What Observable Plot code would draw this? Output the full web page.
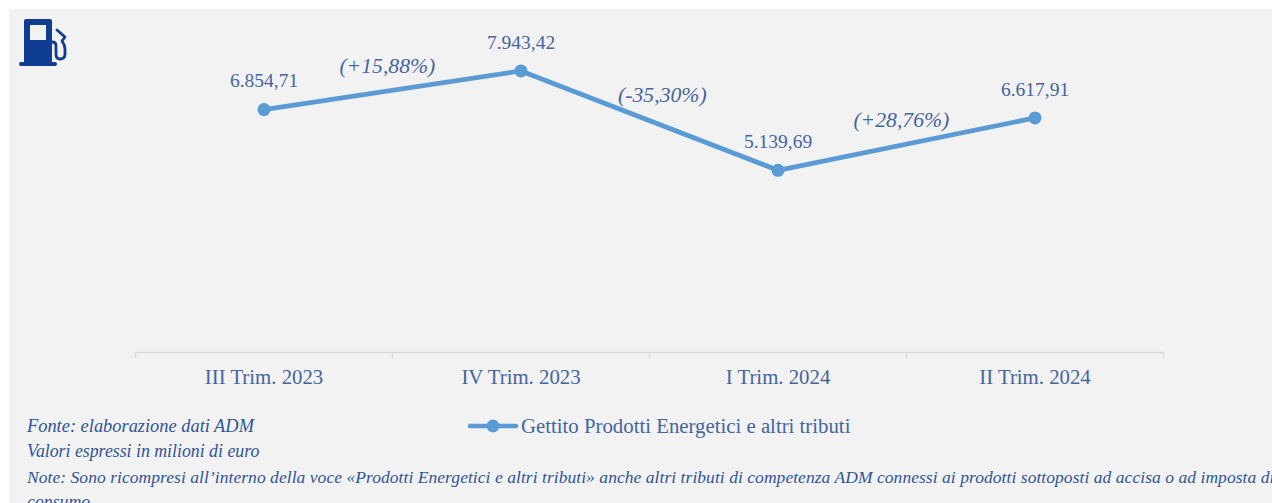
<!DOCTYPE html>
<html><head><meta charset="utf-8">
<script src="https://cdn.jsdelivr.net/npm/d3@7"></script>
<script src="https://cdn.jsdelivr.net/npm/@observablehq/plot@0.6"></script>
<style>
html,body{margin:0;padding:0;width:1272px;height:503px;overflow:hidden;background:#fff}
#panel{position:absolute;left:9px;top:9px;right:0;bottom:0;background:#f2f2f2}
#chart{position:absolute;left:0;top:0}
#icon{position:absolute;left:18px;top:18px}
.note{position:absolute;left:27px;white-space:nowrap;font:italic 17.8px/24px "Liberation Serif",serif;color:#2f5597}
#legend{position:absolute;left:468px;top:414px;height:24px;white-space:nowrap;font:20.8px/24px "Liberation Serif",serif;color:#44659f}
#legend svg{position:absolute;left:0;top:0}
#legend span{position:absolute;left:53px;top:0}
</style></head><body>
<div id="panel"></div>
<div id="chart"></div>
<svg id="icon" width="52" height="50" viewBox="0 0 52 50">
<path fill="#0f3d91" fill-rule="evenodd" d="M6 3q0-2 2-2h24q2 0 2 2v41h3q2 0 2 2t-2 2H3q-2 0-2-2t2-2h3zM12 7v15h16V7z"/>
<path fill="none" stroke="#0f3d91" stroke-width="2.8" stroke-linecap="round" stroke-linejoin="round" d="M34 24q4 0 4 4v8q0 5 4 5q5 0 5-5v-5q0-4-3-8l3-4-8-7"/>
</svg>
<div class="note" style="top:414px;font-size:18.4px">Fonte: elaborazione dati ADM</div>
<div class="note" style="top:439px">Valori espressi in milioni di euro</div>
<div class="note" style="top:465px;font-size:17.5px;letter-spacing:.05px">Note: Sono ricompresi all’interno della voce «Prodotti Energetici e altri tributi» anche altri tributi di competenza ADM connessi ai prodotti sottoposti ad accisa o ad imposta di</div>
<div class="note" style="top:490px">consumo</div>
<div id="legend"><svg width="52" height="24"><line x1="2" x2="48" y1="12" y2="12" stroke="#5b9bd5" stroke-width="4.500" stroke-linecap="round"/><circle cx="25" cy="12" r="6.500" fill="#5b9bd5"/></svg><span>Gettito Prodotti Energetici e altri tributi</span></div>
<script>
const quarters = ["III Trim. 2023","IV Trim. 2023","I Trim. 2024","II Trim. 2024"];
const values = [6854.71,7943.42,5139.69,6617.91];
const valueLabels = ["6.854,71","7.943,42","5.139,69","6.617,91"];
const changes = ["(+15,88%)","(-35,30%)","(+28,76%)"];
const changeX = [0.98,2.05,2.98];
const changeY = [8070,7270,6570];
const slots = [0.5,1.5,2.5,3.5];
const bounds = [0,1,2,3,4];

const rows = quarters.map((q,i)=>({q,x:slots[i],v:values[i],label:valueLabels[i]}));
const changeRows = changes.map((t,i)=>({t,x:changeX[i],y:changeY[i]}));
const serif = "Liberation Serif, serif";

const plot = Plot.plot({
  width:1272,height:400,
  marginLeft:135,marginRight:109,marginTop:33,marginBottom:48,
  style:{background:"transparent",fontFamily:serif},
  x:{domain:[0,4]},
  y:{domain:[0,9000],axis:null},
  marks:[
    Plot.ruleY([0],{stroke:"#d9d9d9",strokeWidth:1.5}),
    Plot.axisX({ticks:bounds,tickFormat:()=>"",tickSize:6,stroke:"#d9d9d9",strokeWidth:1.5,label:null}),
    Plot.axisX({ticks:slots,tickFormat:d=>quarters[slots.indexOf(d)],tickSize:0,tickPadding:17,fontSize:20.8,fill:"#44659f",label:null}),
    Plot.line(rows,{x:"x",y:"v",stroke:"#5b9bd5",strokeWidth:4.8,curve:"linear"}),
    Plot.dot(rows,{x:"x",y:"v",r:6.5,fill:"#5b9bd5"}),
    Plot.text(rows,{x:"x",y:"v",text:"label",dy:-28.5,fontSize:19.5,fill:"#44659f"}),
    Plot.text(changeRows,{x:"x",y:"y",text:"t",fontSize:21.7,fontStyle:"italic",fill:"#44659f"})
  ]
});
document.getElementById("chart").appendChild(plot);
</script>
</body></html>
